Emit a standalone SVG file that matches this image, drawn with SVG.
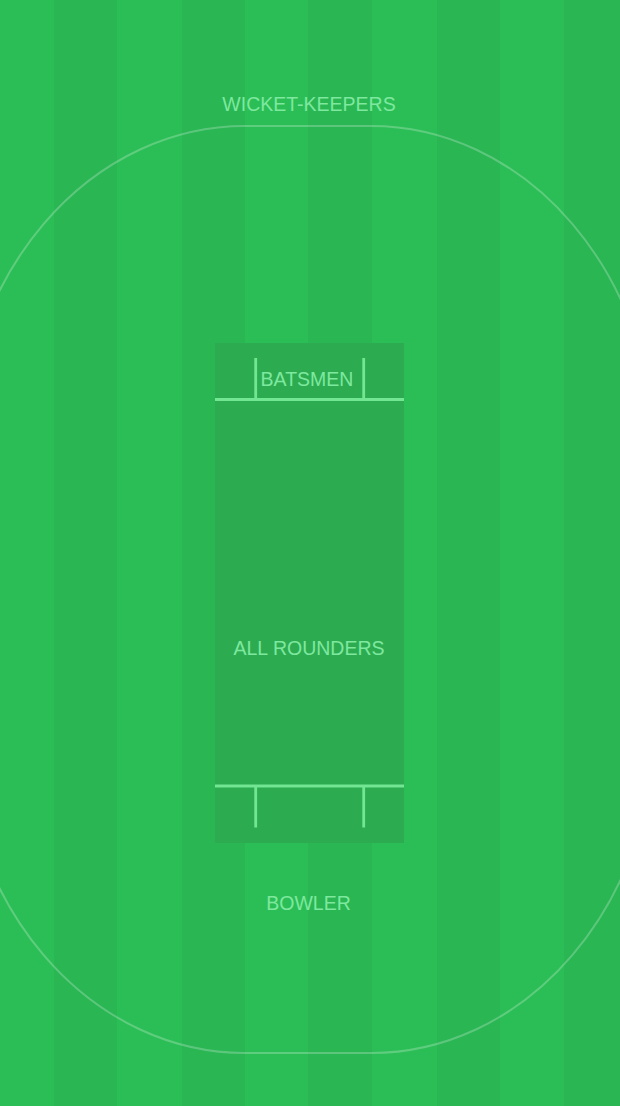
<svg xmlns="http://www.w3.org/2000/svg" width="620" height="1106" viewBox="0 0 620 1106">
  <style>
    .stripe-dark { fill: #29b653; }
    .crease { fill: #72e693; }
    .label { font-family: "Liberation Sans", Arial, sans-serif; font-size: 19.5px; fill: #7ee89f; text-anchor: middle; }
  </style>
  <g id="field">
    <rect x="0" y="0" width="620" height="1106" fill="#2cbe56"/>
    <rect class="stripe-dark" x="54" y="0" width="63" height="1106"/>
    <rect class="stripe-dark" x="182" y="0" width="63" height="1106"/>
    <rect class="stripe-dark" x="308" y="0" width="64" height="1106"/>
    <rect class="stripe-dark" x="437" y="0" width="63" height="1106"/>
    <rect class="stripe-dark" x="564" y="0" width="56" height="1106"/>
  </g>
  <g id="boundary">
    <path d="M245 126 L371 126 A285 335 0 0 1 656 461 L656 718 A285 335 0 0 1 371 1053 L245 1053 A285 335 0 0 1 -40 718 L-40 461 A285 335 0 0 1 245 126 Z" fill="none" stroke="#ffffff" stroke-opacity="0.24" stroke-width="2"/>
  </g>
  <g id="pitch">
    <rect x="215" y="343" width="189" height="500" fill="#2dab51"/>
    <rect class="crease" x="215" y="398" width="189" height="3"/>
    <rect class="crease" x="254.3" y="358" width="2.8" height="41"/>
    <rect class="crease" x="362.3" y="358" width="2.8" height="41"/>
    <rect class="crease" x="215" y="784.5" width="189" height="3"/>
    <rect class="crease" x="254.3" y="786" width="2.8" height="41.5"/>
    <rect class="crease" x="362.3" y="786" width="2.8" height="41.5"/>
  </g>
  <g id="wicket-keepers"><text class="label" x="309" y="111">WICKET-KEEPERS</text></g>
  <g id="batsmen"><text class="label" x="307" y="386">BATSMEN</text></g>
  <g id="all-rounders"><text class="label" x="309" y="654.5">ALL ROUNDERS</text></g>
  <g id="bowler"><text class="label" x="308.5" y="909.5">BOWLER</text></g>
</svg>
